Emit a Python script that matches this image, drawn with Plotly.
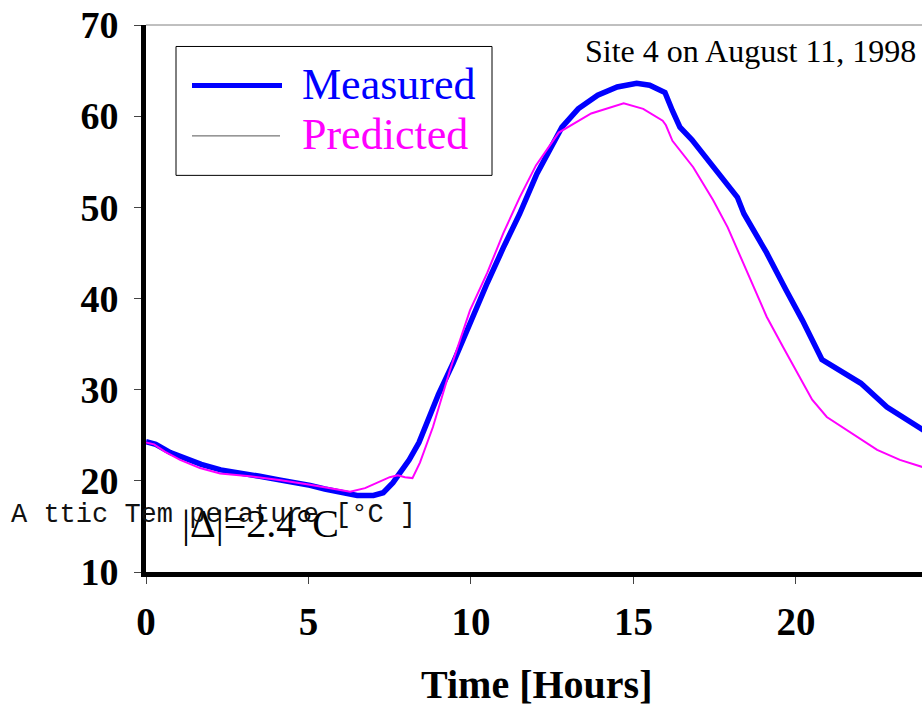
import plotly.graph_objects as go

# ---- data ----
meas_x = [0, 0.3, 0.75, 1.2, 1.7, 2.3, 2.9, 3.5, 4.1, 4.6, 5.05, 5.5, 6.0, 6.5, 7.0, 7.3,
          7.6, 7.9, 8.1, 8.4, 8.65, 9.0, 9.45, 9.97, 10.5, 11.0, 11.5, 12.03, 12.8, 13.3,
          13.9, 14.5, 15.1, 15.5, 15.97, 16.2, 16.43, 16.8, 17.45, 17.75, 18.2, 18.4, 19.1,
          19.7, 20.2, 20.8, 21.15, 22.0, 22.8, 23.8, 24.0]
meas_y = [24.3, 24.0, 23.1, 22.5, 21.8, 21.2, 20.9, 20.5, 20.1, 19.8, 19.5, 19.1, 18.7, 18.4,
          18.4, 18.7, 19.8, 21.2, 22.3, 24.2, 26.5, 29.5, 32.9, 37.3, 41.7, 45.6, 49.3, 53.7,
          58.8, 60.8, 62.3, 63.2, 63.6, 63.4, 62.6, 60.6, 58.8, 57.4, 54.4, 53.0, 51.1, 49.3,
          45.0, 40.9, 37.6, 33.3, 32.5, 30.7, 28.1, 25.8, 25.4]

pred_x = [0, 0.25, 0.58, 1.05, 1.66, 2.28, 3.2, 4.1, 5.0, 5.95, 6.28, 6.74, 7.2, 7.5, 7.75,
          7.97, 8.2, 8.43, 8.83, 9.35, 9.97, 10.5, 11.0, 11.5, 12.0, 12.7, 13.7, 14.7, 15.3,
          15.9, 16.0, 16.2, 16.84, 17.15, 17.45, 17.9, 18.3, 18.7, 19.1, 19.6, 20.1, 20.5,
          20.95, 21.7, 22.5, 23.2, 23.8, 24.0]
pred_y = [24.2, 24.0, 23.2, 22.3, 21.4, 20.8, 20.5, 20.1, 19.6, 19.0, 18.8, 19.2, 19.9, 20.4,
          20.6, 20.4, 20.3, 22.0, 25.9, 32.1, 38.7, 42.8, 47.2, 51.1, 54.6, 58.2, 60.3, 61.4,
          60.8, 59.5, 59.0, 57.3, 54.4, 52.6, 50.8, 47.8, 44.5, 41.2, 38.0, 34.7, 31.4, 28.9,
          27.0, 25.3, 23.4, 22.3, 21.6, 21.4]

x_ticks = [0, 5, 10, 15, 20]
y_ticks = [10, 20, 30, 40, 50, 60, 70]
series_names = ["Measured", "Predicted"]
chart_title = "Site 4 on August 11, 1998"
x_title = "Time [Hours]"
y_title = "A ttic Tem perature [°C ]"
delta_text = "|Δ|=2.4°C"

# ---- layout geometry ----
W, H = 922, 708
L, R, T, B = 146, 0, 24.5, 136


def px(xp):
    return (xp - L) / (W - L - R)


def py(yp):
    return (H - B - yp) / (H - T - B)


SERIF = "Liberation Serif, Times New Roman, serif"
MONO = "Liberation Mono, Courier New, monospace"

fig = go.Figure()
fig.add_trace(go.Scatter(x=meas_x, y=meas_y, mode="lines", name=series_names[0],
                         line=dict(color="#0000FF", width=5.5), showlegend=False))
fig.add_trace(go.Scatter(x=pred_x, y=pred_y, mode="lines", name=series_names[1],
                         line=dict(color="#FF00FF", width=2), showlegend=False))

fig.update_layout(
    width=W, height=H,
    margin=dict(l=L, r=R, t=T, b=B, pad=0),
    paper_bgcolor="white", plot_bgcolor="white",
    showlegend=False,
)
fig.update_xaxes(
    range=[0, 23.88], tickvals=x_ticks, ticktext=[str(v) for v in x_ticks],
    showgrid=False, zeroline=False,
    showline=True, linecolor="black", linewidth=5,
    ticks="outside", ticklen=7, tickwidth=1, tickcolor="#444",
    tickfont=dict(family=SERIF, size=39, color="black", weight="bold"),
    ticklabelstandoff=4,
)
fig.update_yaxes(
    range=[10, 70], tickvals=y_ticks, ticktext=[str(v) for v in y_ticks],
    showgrid=False, zeroline=False,
    showline=True, linecolor="black", linewidth=5,
    ticks="outside", ticklen=7, tickwidth=1, tickcolor="#444",
    tickfont=dict(family=SERIF, size=38, color="black", weight="bold"),
    ticklabelstandoff=8,
)

shapes = [
    # thin top frame line
    dict(type="line", xref="paper", yref="paper", x0=0, x1=1, y0=1, y1=1,
         line=dict(color="#808080", width=1)),
    # legend box
    dict(type="rect", xref="paper", yref="paper", x0=px(176), x1=px(492), y0=py(175), y1=py(46),
         line=dict(color="black", width=1), fillcolor="white", layer="above"),
    # legend samples
    dict(type="line", xref="paper", yref="paper", x0=px(192), x1=px(282), y0=py(85), y1=py(85),
         line=dict(color="#0000FF", width=5)),
    dict(type="line", xref="paper", yref="paper", x0=px(192), x1=px(280), y0=py(135.5), y1=py(135.5),
         line=dict(color="#555555", width=1)),
]
fig.update_layout(shapes=shapes)

ann = [
    dict(text=series_names[0], x=px(300), y=py(84), font=dict(family=SERIF, size=44, color="#0000FF")),
    dict(text=series_names[1], x=px(300), y=py(134.5), font=dict(family=SERIF, size=44, color="#FF00FF")),
    dict(text=chart_title, x=px(583), y=py(51), font=dict(family=SERIF, size=32, color="black")),
    dict(text=delta_text, x=px(180), y=py(523), font=dict(family=SERIF, size=40, color="black")),
    dict(text=y_title, x=px(9), y=py(514.5), font=dict(family=MONO, size=27, color="#111")),
]
for a in ann:
    fig.add_annotation(xref="paper", yref="paper", xanchor="left", yanchor="middle",
                       showarrow=False, **a)
fig.add_annotation(text=x_title, xref="paper", yref="paper", x=px(536.5), y=py(685),
                   xanchor="center", yanchor="middle", showarrow=False,
                   font=dict(family=SERIF, size=40, color="black", weight="bold"))

fig.write_html("out.html")
